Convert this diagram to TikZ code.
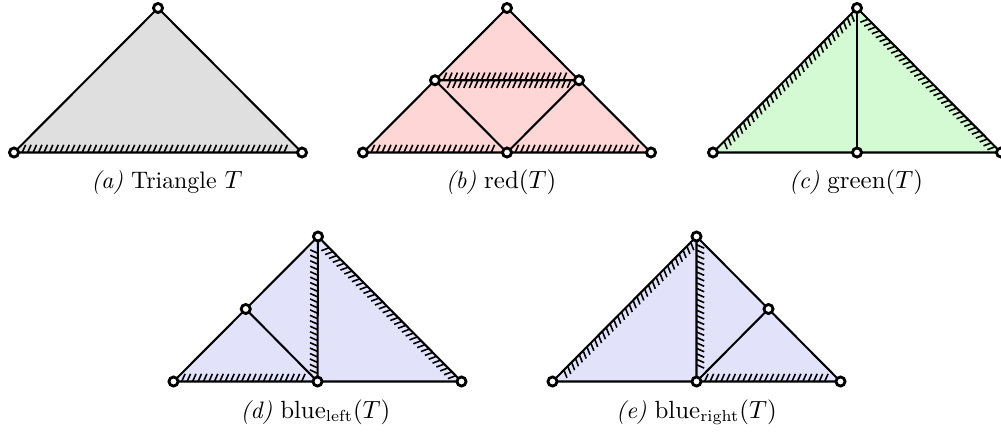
\documentclass[tikz,border=0pt]{standalone}
\usetikzlibrary{calc,decorations.pathreplacing}
\definecolor{fgray}{RGB}{223,223,223}
\definecolor{fred}{RGB}{255,214,214}
\definecolor{fgreen}{RGB}{212,250,212}
\definecolor{fblue}{RGB}{226,226,250}
\tikzset{
  edge/.style={line width=0.9pt, line join=round},
  hatch/.style={line width=0.7pt, decorate, decoration={border, segment length=2.4pt, amplitude=3.7pt, angle=66}},
  vtx/.style={circle, draw, fill=white, line width=1.25pt, inner sep=0pt, minimum size=4pt},
  captext/.style={anchor=base, inner sep=0pt, font=\fontsize{10.5}{12}\selectfont},
}
\newcommand{\hatchedge}[2]{\draw[hatch] ($(#1)!3.6pt!(#2)$) -- ($(#2)!3.6pt!(#1)$);}
\begin{document}
\begin{tikzpicture}[x=0.44pt,y=-0.44pt]
\useasboundingbox (0,0) rectangle (1001,434);
% ---------- (a)
\coordinate (a1) at (14,152.5);
\coordinate (a2) at (302,152.5);
\coordinate (a3) at (158,8);
\fill[fgray] (a1) -- (a2) -- (a3) -- cycle;
\hatchedge{a1}{a2}
\draw[edge] (a1) -- (a2) -- (a3) -- cycle;
\node[vtx] (va1) at (a1) {};
\node[vtx] (va2) at (a2) {};
\node[vtx] (va3) at (a3) {};
\node[captext] (capa) at (167,188) {\textit{(a)} Triangle $T$};
% ---------- (b)
\coordinate (b1) at (363,152.5);
\coordinate (b2) at (651,152.5);
\coordinate (b3) at (507,8);
\coordinate (b12) at ($(b1)!0.5!(b2)$);
\coordinate (b13) at ($(b1)!0.5!(b3)$);
\coordinate (b23) at ($(b2)!0.5!(b3)$);
\fill[fred] (b1) -- (b2) -- (b3) -- cycle;
\hatchedge{b1}{b12}
\hatchedge{b12}{b2}
\hatchedge{b13}{b23}
\hatchedge{b23}{b13}
\draw[edge] (b1) -- (b2) -- (b3) -- cycle;
\draw[edge] (b13) -- (b23) -- (b12) -- cycle;
\node[vtx] (vb1) at (b1) {};
\node[vtx] (vb2) at (b2) {};
\node[vtx] (vb3) at (b3) {};
\node[vtx] (vb12) at (b12) {};
\node[vtx] (vb13) at (b13) {};
\node[vtx] (vb23) at (b23) {};
\node[captext] (capb) at (501,188) {\textit{(b)} $\mathrm{red}(T)$};
% ---------- (c)
\coordinate (c1) at (713,152.5);
\coordinate (c2) at (1001,152.5);
\coordinate (c3) at (857,8);
\coordinate (c12) at ($(c1)!0.5!(c2)$);
\fill[fgreen] (c1) -- (c2) -- (c3) -- cycle;
\hatchedge{c3}{c1}
\hatchedge{c2}{c3}
\draw[edge] (c1) -- (c2) -- (c3) -- cycle;
\draw[edge] (c3) -- (c12);
\node[vtx] (vc1) at (c1) {};
\node[vtx] (vc2) at (c2) {};
\node[vtx] (vc3) at (c3) {};
\node[vtx] (vc12) at (c12) {};
\node[captext] (capc) at (856,188) {\textit{(c)} $\mathrm{green}(T)$};
% ---------- (d)
\coordinate (d1) at (173.5,381.5);
\coordinate (d2) at (461.5,381.5);
\coordinate (d3) at (318,236.5);
\coordinate (d12) at ($(d1)!0.5!(d2)$);
\coordinate (d13) at ($(d1)!0.5!(d3)$);
\fill[fblue] (d1) -- (d2) -- (d3) -- cycle;
\hatchedge{d1}{d12}
\hatchedge{d12}{d3}
\hatchedge{d2}{d3}
\draw[edge] (d1) -- (d2) -- (d3) -- cycle;
\draw[edge] (d3) -- (d12) -- (d13);
\node[vtx] (vd1) at (d1) {};
\node[vtx] (vd2) at (d2) {};
\node[vtx] (vd3) at (d3) {};
\node[vtx] (vd12) at (d12) {};
\node[vtx] (vd13) at (d13) {};
\node[captext] (capd) at (315.5,418) {\textit{(d)} $\mathrm{blue}_{\mathrm{left}}(T)$};
% ---------- (e)
\coordinate (e1) at (552.5,381.5);
\coordinate (e2) at (840.5,381.5);
\coordinate (e3) at (696.5,236.5);
\coordinate (e12) at ($(e1)!0.5!(e2)$);
\coordinate (e23) at ($(e2)!0.5!(e3)$);
\fill[fblue] (e1) -- (e2) -- (e3) -- cycle;
\hatchedge{e3}{e1}
\hatchedge{e3}{e12}
\hatchedge{e12}{e2}
\draw[edge] (e1) -- (e2) -- (e3) -- cycle;
\draw[edge] (e3) -- (e12) -- (e23);
\node[vtx] (ve1) at (e1) {};
\node[vtx] (ve2) at (e2) {};
\node[vtx] (ve3) at (e3) {};
\node[vtx] (ve12) at (e12) {};
\node[vtx] (ve23) at (e23) {};
\node[captext] (cape) at (696.5,418) {\textit{(e)} $\mathrm{blue}_{\mathrm{right}}(T)$};
\end{tikzpicture}
\end{document}
